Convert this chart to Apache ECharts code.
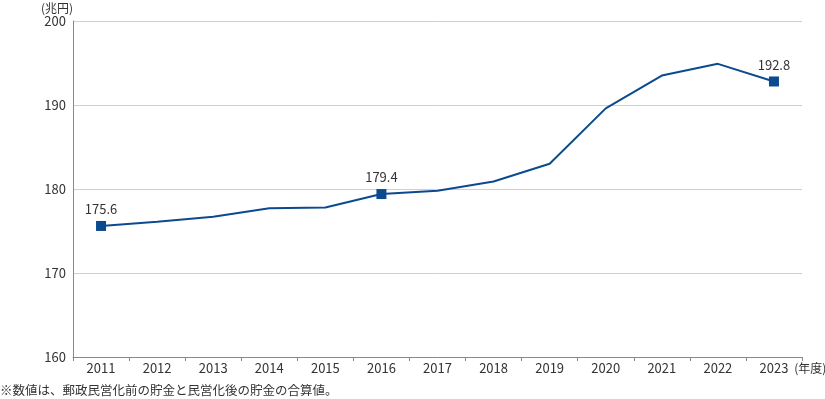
<!DOCTYPE html>
<html>
<head>
<meta charset="utf-8">
<script src="https://cdn.jsdelivr.net/npm/echarts@6/dist/echarts.min.js"></script>
<style>
  html, body { margin: 0; padding: 0; background: #fff; }
  #chart { width: 825px; height: 399px; }
</style>
</head>
<body>
<div id="chart"></div>
<script>
  // 年度
  const years = ['2011', '2012', '2013', '2014', '2015', '2016', '2017', '2018', '2019', '2020', '2021', '2022', '2023']
  // 貯金残高（兆円）
  const savings = [175.6, 176.1, 176.7, 177.7, 177.8, 179.4, 179.8, 180.9, 183.0, 189.6, 193.5, 194.9, 192.8]
  // マーカーとラベルを付ける年度
  const markedYears = ['2011', '2016', '2023']
  const yTicks = [160, 170, 180, 190, 200]

  const font = '"Noto Sans CJK JP", "Noto Sans", sans-serif'
  const lineColor = '#0b4a8f'

  const chart = echarts.init(document.getElementById('chart'))

  const seriesData = savings.map((v, i) => {
      const marked = markedYears.indexOf(years[i]) >= 0
      return {
          value: v,
          symbolSize: marked ? 10 : 0,
          label: { show: marked }
      }
  })

  chart.setOption({
      animation: false,
      textStyle: { fontFamily: font },
      grid: {
          left: 73,
          right: 23,
          top: 21,
          bottom: 42,
          containLabel: false,
          outerBoundsMode: 'none'
      },
      xAxis: {
          type: 'category',
          data: years,
          boundaryGap: true,
          name: '(年度)',
          nameLocation: 'end',
          nameGap: -13,
          nameTextStyle: {
              color: '#333',
              fontSize: 12,
              align: 'left',
              verticalAlign: 'top',
              padding: [5, 0, 0, 0]
          },
          axisLine: { lineStyle: { color: '#888', width: 1 } },
          axisTick: { show: true, length: 4, lineStyle: { color: '#888' } },
          axisLabel: { color: '#333', fontSize: 13, margin: 5 },
          splitLine: { show: false }
      },
      yAxis: {
          type: 'value',
          min: yTicks[0],
          max: yTicks[yTicks.length - 1],
          interval: 10,
          name: '(兆円)',
          nameLocation: 'end',
          nameGap: 7,
          nameTextStyle: {
              color: '#333',
              fontSize: 12,
              align: 'right',
              verticalAlign: 'bottom'
          },
          axisLine: { show: true, lineStyle: { color: '#888', width: 1 } },
          axisTick: { show: false },
          axisLabel: { color: '#333', fontSize: 13, margin: 7 },
          splitLine: { show: true, lineStyle: { color: '#cfcfcf', width: 1 } }
      },
      series: [{
          type: 'line',
          data: seriesData,
          symbol: 'rect',
          smooth: false,
          lineStyle: { color: lineColor, width: 2 },
          itemStyle: { color: lineColor },
          label: {
              position: 'top',
              distance: 5,
              color: '#333',
              fontSize: 13
          }
      }],
      graphic: [{
          type: 'text',
          left: 0,
          top: 384,
          style: {
              text: '※数値は、郵政民営化前の貯金と民営化後の貯金の合算値。',
              fill: '#333',
              font: '12.5px ' + font
          }
      }]
  })
</script>
</body>
</html>
